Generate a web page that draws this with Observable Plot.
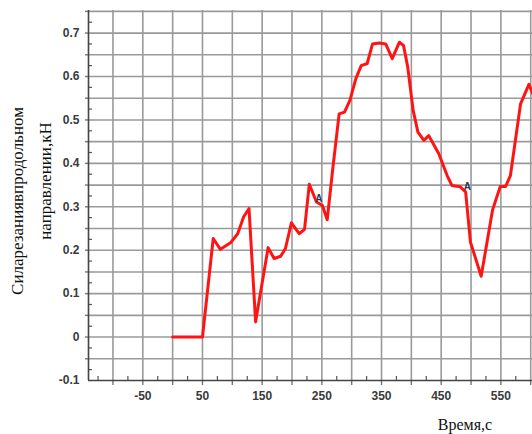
<!DOCTYPE html>
<html>
<head>
<meta charset="utf-8">
<script src="https://cdn.jsdelivr.net/npm/d3@7"></script>
<script src="https://cdn.jsdelivr.net/npm/@observablehq/plot@0.6"></script>
<style>
  html, body { margin: 0; padding: 0; background: #fff; }
  #wrap { position: relative; width: 532px; height: 434px; }
  .ttl { position: absolute; white-space: nowrap; font-family: "Liberation Serif", "Times New Roman", serif; font-size: 17px; line-height: 1; color: #111; transform: translate(-50%, -50%); }
  .rot { transform: translate(-50%, -50%) rotate(-90deg); }
</style>
</head>
<body>
<div id="wrap">
  <div id="chart"></div>
  <div class="ttl rot" id="yt1" style="left:17px; top:201px;"></div>
  <div class="ttl rot" id="yt2" style="left:45px; top:181px;"></div>
  <div class="ttl" id="xt" style="left:465px; top:425px; font-size:16px;"></div>
</div>
<script>
// Time, s
const time = [0, 50, 68, 80, 97, 109, 119, 128, 139, 160, 170, 181, 189, 199, 212, 221, 229, 241, 251, 259,
  268, 279, 288, 297, 307, 316, 326, 335, 346, 357, 368, 380, 387, 394, 403, 411, 421, 429, 446, 460,
  468, 482, 491, 499, 517, 536, 549, 558, 566, 583, 597, 610];
// Cutting force, kN
const force = [0, 0, 0.227, 0.202, 0.217, 0.238, 0.277, 0.296, 0.035, 0.206, 0.181, 0.186, 0.204, 0.263, 0.238, 0.248, 0.352, 0.311, 0.303, 0.27,
  0.384, 0.514, 0.518, 0.545, 0.595, 0.625, 0.63, 0.675, 0.677, 0.675, 0.641, 0.679, 0.671, 0.621, 0.522, 0.472, 0.453, 0.464, 0.422, 0.372,
  0.349, 0.346, 0.334, 0.219, 0.140, 0.292, 0.347, 0.347, 0.372, 0.537, 0.582, 0.54];

const markTime = [245, 494];
const markForce = [0.319, 0.345];
const markText = ["A", "A"];

const xTickLabels = [-50, 50, 150, 250, 350, 450, 550];
const xGrid = [-100, -50, 0, 50, 100, 150, 200, 250, 300, 350, 400, 450, 500, 550, 600];
const xMinor = [-125, -75, -25, 25, 75, 125, 175, 225, 275, 325, 375, 425, 475, 525, 575];
const yTickLabels = [-0.1, 0, 0.1, 0.2, 0.3, 0.4, 0.5, 0.6, 0.7];
const yGrid = [-0.05, 0, 0.05, 0.1, 0.15, 0.2, 0.25, 0.3, 0.35, 0.4, 0.45, 0.5, 0.55, 0.6, 0.65, 0.7, 0.75];
const yMinor = [-0.075, -0.025, 0.025, 0.075, 0.125, 0.175, 0.225, 0.275, 0.325, 0.375, 0.425, 0.475, 0.525, 0.575, 0.625, 0.675, 0.725];

const yTitle1 = "Силарезаниявпродольном";
const yTitle2 = "направлении,кН";
const xTitle = "Время,с";

const lineData = time.map((t, i) => ({t, f: force[i]}));
const labelData = markTime.map((t, i) => ({t, f: markForce[i], s: markText[i]}));

const W = 532, H = 434, mL = 88, mR = 0, mT = 10, mB = 54;
const plotW = W - mL - mR, plotH = H - mT - mB;
const fmtNum = d => (d === 0 ? "0" : d3.format(".1f")(d)).replace("−", "-");
const sans = "Liberation Sans, Arial, sans-serif";

const chart = Plot.plot({
  width: W, height: H,
  marginLeft: mL, marginRight: mR, marginTop: mT, marginBottom: mB,
  x: {domain: [-141, 603], axis: null},
  y: {domain: [-0.1, 0.752], axis: null},
  marks: [
    Plot.axisX({ticks: xTickLabels, tickSize: 0, tickPadding: 11, label: null, fontSize: 12, fontWeight: "bold", fill: "#3a3a3a", fontFamily: sans, tickFormat: d => String(d)}),
    Plot.axisY({ticks: yTickLabels, tickSize: 0, tickPadding: 9, label: null, fontSize: 12, fontWeight: "bold", fill: "#3a3a3a", fontFamily: sans, tickFormat: fmtNum}),
    Plot.gridX({ticks: xGrid, stroke: "#9a9a9a", strokeOpacity: 1, strokeWidth: 1.6}),
    Plot.gridY({ticks: yGrid, stroke: "#9a9a9a", strokeOpacity: 1, strokeWidth: 1.6}),
    Plot.ruleX(xGrid, {stroke: "#777", strokeWidth: 1.4, insetTop: plotH, insetBottom: -5}),
    Plot.ruleY(yGrid, {stroke: "#777", strokeWidth: 1.4, insetRight: plotW, insetLeft: -3}),
    Plot.tickX(xMinor, {stroke: "#555", strokeWidth: 1.2, insetTop: plotH - 4}),
    Plot.tickY(yMinor, {stroke: "#555", strokeWidth: 1.2, insetRight: plotW - 4}),
    Plot.ruleX([-141], {stroke: "#444", strokeWidth: 1.6}),
    Plot.ruleY([-0.1], {stroke: "#444", strokeWidth: 1.6}),
    Plot.line(lineData, {x: "t", y: "f", stroke: "#ff1414", strokeWidth: 3, clip: true, strokeLinejoin: "round"}),
    Plot.text(labelData, {x: "t", y: "f", text: "s", fill: "#2b3550", fontSize: 10, fontWeight: "bold", fontFamily: sans})
  ]
});

document.getElementById("chart").appendChild(chart);
document.getElementById("yt1").textContent = yTitle1;
document.getElementById("yt2").textContent = yTitle2;
document.getElementById("xt").textContent = xTitle;
</script>
</body>
</html>
